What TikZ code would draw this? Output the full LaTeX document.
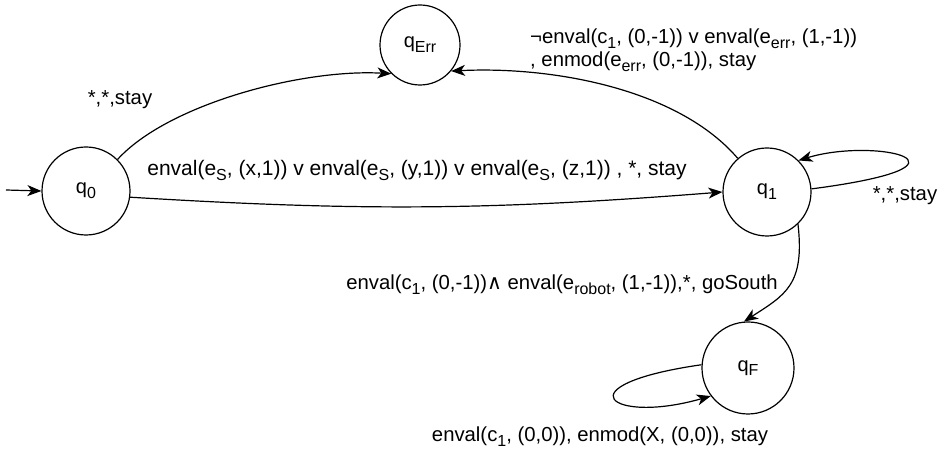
\documentclass[tikz,border=0pt]{standalone}
\usepackage{fontspec}
\setmainfont{Liberation Sans}
\newfontfamily\symf{DejaVu Sans}
\usetikzlibrary{arrows.meta}
\newcommand\mysub[1]{\raisebox{-0.45ex}{\fontsize{16}{16}\selectfont #1}}
\begin{document}
\begin{tikzpicture}[x=1pt,y=1pt,
  state/.style={draw,circle,line width=1.2pt,minimum size=88pt,inner sep=0pt,font=\fontsize{20}{24}\selectfont},
  lbl/.style={font=\fontsize{20.3}{23}\selectfont,inner sep=0pt},
  edge/.style={line width=1.2pt,-{Stealth[length=14pt,width=11pt,inset=4pt]}}]
\useasboundingbox (0,0) rectangle (946,455);
\node[state] (q0) at (86,264) {q\mysub{0}};
\node[state] (q1) at (767,263) {q\mysub{1}};
\node[state,minimum size=80pt] (qE) at (420,410) {q\mysub{Err}};
\node[state,minimum size=92pt] (qF) at (748,87) {q\mysub{F}};
\coordinate (init) at (6,265);
\draw[edge] (init) -- (q0.west);
\draw[edge] (q0.45) .. controls +(50,55) and +(-90,5) .. (qE.225);
\draw[edge] (q0.-8) to[bend right=4] (q1.west);
\draw[edge] (q1.131) .. controls +(-60,70) and +(100,5) .. (qE.-40);
\draw[edge] (q1.4) .. controls (995,290) and (875,318) .. (q1.45);
\draw[edge] (q1.-46) .. controls (805,170) and (785,160) .. (qF.95);
\draw[edge] (qF.176) .. controls (560,70) and (610,30) .. (qF.217);
\node[lbl] (l1) at (120,355) {*,*,stay};
\node[lbl,font=\fontsize{21}{23}\selectfont] (l2) at (417,285) {enval(e\mysub{S}, (x,1)) v enval(e\mysub{S}, (y,1)) v enval(e\mysub{S}, (z,1)) , *, stay};
\node[lbl,anchor=west,align=left] (l3) at (530,405) {¬enval(c\mysub{1}, (0,-1)) v enval(e\mysub{err}, (1,-1))\\, enmod(e\mysub{err}, (0,-1)), stay};
\node[lbl] (l4) at (905,259) {*,*,stay};
\node[lbl] (l5) at (562,170) {enval(c\mysub{1}, (0,-1)){\symf ∧} enval(e\mysub{robot}, (1,-1)),*, goSouth};
\node[lbl] (l6) at (600,18) {enval(c\mysub{1}, (0,0)), enmod(X, (0,0)), stay};
\end{tikzpicture}
\end{document}
